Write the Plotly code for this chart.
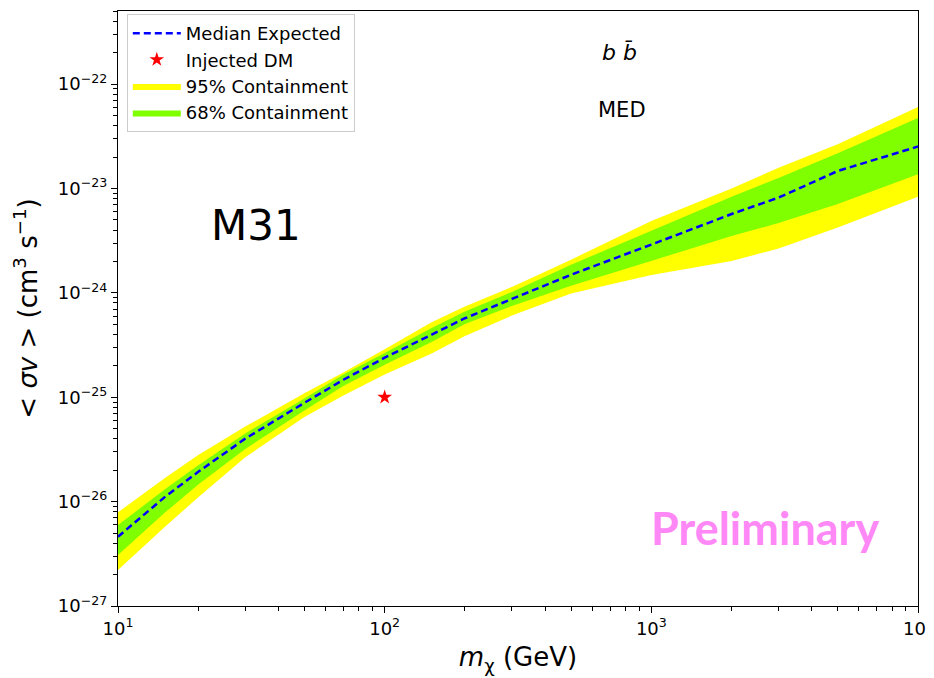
import plotly.graph_objects as go

# Dark-matter mass grid (GeV)
mass = [10, 15, 20, 30, 50, 70, 100, 150, 200, 300, 500, 1000, 2000, 3000, 5000, 10000]

# Median expected limit and containment bands (cm^3 s^-1)
median = [4.61e-27, 1.11e-26, 1.93e-26, 4.01e-26, 8.84e-26, 1.47e-25, 2.39e-25, 3.94e-25,
          5.71e-25, 8.74e-25, 1.49e-24, 2.90e-24, 5.69e-24, 8.17e-24, 1.47e-23, 2.52e-23]
up68 = [5.97e-27, 1.31e-26, 2.23e-26, 4.50e-26, 9.72e-26, 1.65e-25, 2.65e-25, 4.60e-25,
        6.64e-25, 1.02e-24, 1.86e-24, 3.95e-24, 8.32e-24, 1.26e-23, 2.18e-23, 4.72e-23]
lo68 = [3.08e-27, 7.85e-27, 1.46e-26, 3.19e-26, 7.46e-26, 1.28e-25, 2.05e-25, 3.38e-25,
        5.04e-25, 7.49e-25, 1.17e-24, 2.02e-24, 3.50e-24, 4.66e-24, 7.09e-24, 1.37e-23]
up95 = [7.90e-27, 1.68e-26, 2.79e-26, 5.23e-26, 1.09e-25, 1.73e-25, 2.88e-25, 5.23e-25,
        7.41e-25, 1.14e-24, 2.08e-24, 4.87e-24, 1.00e-23, 1.58e-23, 2.65e-23, 6.02e-23]
lo95 = [2.21e-27, 5.75e-27, 1.10e-26, 2.66e-26, 6.46e-26, 1.04e-25, 1.65e-25, 2.62e-25,
        3.86e-25, 6.05e-25, 9.85e-25, 1.48e-24, 2.02e-24, 2.66e-24, 4.22e-24, 8.33e-24]

# Injected signal
inj_mass = [100]
inj_sigv = [1e-25]

# Ticks
xdecades = [10, 100, 1000, 10000]
xticktext = ["10<sup>1</sup>", "10<sup>2</sup>", "10<sup>3</sup>", ""]
xlast_label = "10<sup>4</sup>"   # drawn separately so it is not clipped at the edge
ydecades = [1e-27, 1e-26, 1e-25, 1e-24, 1e-23, 1e-22]
yticktext = ["10<sup>−27</sup>", "10<sup>−26</sup>", "10<sup>−25</sup>",
             "10<sup>−24</sup>", "10<sup>−23</sup>", "10<sup>−22</sup>"]

xminor = [d * k for d in [10, 100, 1000] for k in range(2, 10)]
yminor = [d * k for d in [1e-27, 1e-26, 1e-25, 1e-24, 1e-23, 1e-22] for k in range(2, 10)]

YELLOW = "#ffff00"
GREEN = "#7fff00"

fig = go.Figure()

# 95% band
fig.add_trace(go.Scatter(x=mass + mass[::-1], y=up95 + lo95[::-1], fill="toself",
                         fillcolor=YELLOW, line=dict(width=0, color=YELLOW),
                         mode="lines", name="95% Containment", legendrank=3,
                         hoverinfo="skip"))
# 68% band
fig.add_trace(go.Scatter(x=mass + mass[::-1], y=up68 + lo68[::-1], fill="toself",
                         fillcolor=GREEN, line=dict(width=0, color=GREEN),
                         mode="lines", name="68% Containment", legendrank=4,
                         hoverinfo="skip"))
# Median
fig.add_trace(go.Scatter(x=mass, y=median, mode="lines",
                         line=dict(color="#0000ff", width=2.5, dash="7px,4px"),
                         name="Median Expected", legendrank=1))
# Injected DM
fig.add_trace(go.Scatter(x=inj_mass, y=inj_sigv, mode="markers",
                         marker=dict(symbol="star", color="red", size=11,
                                     line=dict(width=0)),
                         name="Injected DM", legendrank=2))

axis_common = dict(type="log", showgrid=False, zeroline=False, showline=True,
                   linecolor="black", linewidth=1.3, mirror=True, automargin=False,
                   ticks="outside", ticklen=6, tickwidth=1.2, tickcolor="black",
                   ticklabeloverflow="allow",
                   tickfont=dict(family="DejaVu Sans", size=18, color="black"))

fig.update_xaxes(**axis_common, range=[1, 4], tickvals=xdecades, ticktext=xticktext,
                 minor=dict(tickvals=xminor, ticks="outside", ticklen=3.5,
                            tickwidth=1, tickcolor="black"),
                 title=dict(text="<i>m</i><sub>χ</sub> (GeV)",
                            font=dict(family="DejaVu Sans", size=26, color="black"),
                            standoff=10))
fig.update_yaxes(**axis_common, range=[-27, -21.3], tickvals=ydecades, ticktext=yticktext,
                 minor=dict(tickvals=yminor, ticks="outside", ticklen=3.5,
                            tickwidth=1, tickcolor="black"),
                 title=dict(text="&lt; <i>σv</i> &gt; (cm<sup>3</sup> s<sup>−1</sup>)",
                            font=dict(family="DejaVu Sans", size=26, color="black"),
                            standoff=12))

ann = dict(xref="paper", yref="paper", xanchor="center", yanchor="middle", showarrow=False)
fig.add_annotation(x=0.1725, y=0.64, text="M31",
                   font=dict(family="DejaVu Sans", size=42, color="black"), **ann)
fig.add_annotation(x=0.627, y=0.931, text="<i>b</i> <i>b̄</i>",
                   font=dict(family="DejaVu Sans", size=22, color="black"), **ann)
fig.add_annotation(x=0.63, y=0.834, text="MED",
                   font=dict(family="DejaVu Sans", size=21, color="black"), **ann)
fig.add_annotation(x=0.809, y=0.131, text="<b>Preliminary</b>",
                   font=dict(family="Lato", size=45, color="#ff88f7"), **ann)
# last x tick label (at the right end of the x axis)
fig.add_annotation(x=1.0, xref="paper", y=0, yref="paper", text=xlast_label,
                   xanchor="center", yanchor="top", yshift=-7, showarrow=False,
                   font=dict(family="DejaVu Sans", size=18, color="black"))

# The page body adds an 8px offset, so the figure is 8px smaller and margins compensate.
fig.update_layout(
    width=926, height=670,
    margin=dict(l=110, r=16, t=3, b=72),
    paper_bgcolor="white", plot_bgcolor="white",
    font=dict(family="DejaVu Sans", color="black"),
    showlegend=True,
    legend=dict(x=0.011, y=0.995, xanchor="left", yanchor="top",
                bgcolor="rgba(255,255,255,0.85)", bordercolor="#cccccc", borderwidth=1,
                font=dict(family="DejaVu Sans", size=18, color="black"),
                traceorder="normal", itemwidth=48),
)

fig.write_html("out.html")
